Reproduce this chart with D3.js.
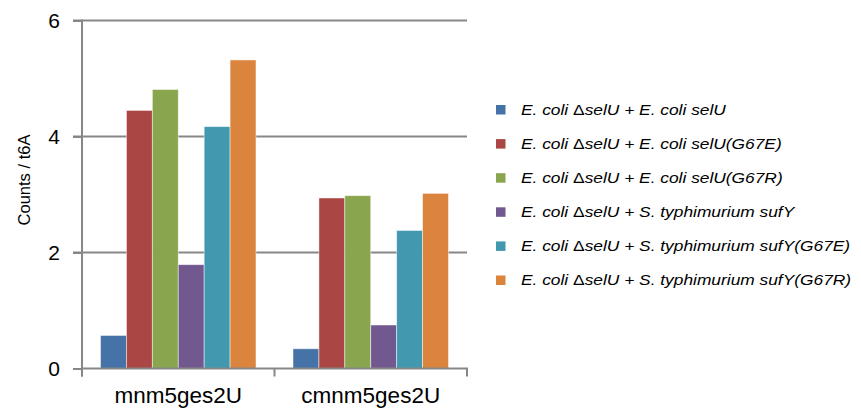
<!DOCTYPE html>
<html>
<head>
<meta charset="utf-8">
<script src="https://cdn.jsdelivr.net/npm/d3@7/dist/d3.min.js"></script>
<style>
  body { margin: 0; background: #fff; }
  svg { display: block; font-family: "Liberation Sans", Arial, sans-serif; }
</style>
</head>
<body>
<svg id="chart" width="861" height="409"></svg>
<script>
// Modified nucleosides measured on the x axis
const categories = ["mnm5ges2U", "cmnm5ges2U"];

// Strain / construct series shown in the legend
const seriesNames = [
  "E. coli ΔselU + E. coli selU",
  "E. coli ΔselU + E. coli selU(G67E)",
  "E. coli ΔselU + E. coli selU(G67R)",
  "E. coli ΔselU + S. typhimurium sufY",
  "E. coli ΔselU + S. typhimurium sufY(G67E)",
  "E. coli ΔselU + S. typhimurium sufY(G67R)"
];

// Counts / t6A for each series, one value per category
const selU      = [0.57, 0.34];
const selUG67E  = [4.45, 2.94];
const selUG67R  = [4.81, 2.98];
const sufY      = [1.79, 0.75];
const sufYG67E  = [4.17, 2.38];
const sufYG67R  = [5.32, 3.02];

const yTicks = [0, 2, 4, 6];
const colors = ["#4572A7", "#AA4643", "#89A54E", "#71588F", "#4198AF", "#DB843D"];

const seriesValues = [selU, selUG67E, selUG67R, sufY, sufYG67E, sufYG67R];

const svg = d3.select("#chart");
const plot = { left: 82, right: 467, top: 20.5, bottom: 368.5 };

const x0 = d3.scaleBand().domain(categories).range([plot.left, plot.right]).paddingInner(0).paddingOuter(0);
const x1 = d3.scaleBand().domain(d3.range(seriesNames.length))
  .range([0, x0.bandwidth()]).paddingInner(0).paddingOuter(0.714);
const y = d3.scaleLinear().domain([0, 6]).range([plot.bottom, plot.top]);

const axisColor = "#878787";

// Horizontal gridlines with short outward ticks
const grid = svg.append("g");
yTicks.filter(t => t > 0).forEach(t => {
  grid.append("line")
    .attr("x1", plot.left - 9).attr("x2", plot.right)
    .attr("y1", y(t)).attr("y2", y(t))
    .attr("stroke", axisColor).attr("stroke-width", 2);
});

// Bars
const groups = svg.append("g").selectAll("g")
  .data(categories)
  .join("g")
  .attr("transform", d => `translate(${x0(d)},0)`);

groups.selectAll("rect")
  .data((c, ci) => seriesValues.map((vals, si) => ({ si, v: vals[ci] })))
  .join("rect")
  .attr("x", d => x1(d.si))
  .attr("width", x1.bandwidth())
  .attr("y", d => y(d.v))
  .attr("height", d => y(0) - y(d.v))
  .attr("fill", d => colors[d.si])
  .attr("stroke", "#ffffff")
  .attr("stroke-opacity", 0.6)
  .attr("stroke-width", 0.8);

// Y axis
const yAxis = d3.axisLeft(y).tickValues(yTicks).tickSize(9).tickPadding(13).tickFormat(d3.format("d"));
const yg = svg.append("g").attr("transform", `translate(${plot.left},0)`).call(yAxis);
yg.select(".domain").attr("stroke", axisColor).attr("stroke-width", 2)
  .attr("d", `M0,${plot.top - 1}V${plot.bottom + 8}`);
yg.selectAll(".tick line").attr("stroke", axisColor).attr("stroke-width", 2);
yg.selectAll(".tick text").attr("fill", "#000").style("font-size", "21px")
  .style("font-family", "'Liberation Sans', Arial, sans-serif");

// X axis: boundary ticks between categories
const xAxisG = svg.append("g");
xAxisG.append("line")
  .attr("x1", plot.left).attr("x2", plot.right + 1)
  .attr("y1", plot.bottom).attr("y2", plot.bottom)
  .attr("stroke", axisColor).attr("stroke-width", 2);
const boundaries = categories.map(c => x0(c)).concat([x0(categories[categories.length - 1]) + x0.bandwidth()]);
xAxisG.selectAll("line.tk")
  .data(boundaries)
  .join("line")
  .attr("class", "tk")
  .attr("x1", d => d).attr("x2", d => d)
  .attr("y1", plot.bottom).attr("y2", plot.bottom + 8)
  .attr("stroke", axisColor).attr("stroke-width", 2);
xAxisG.selectAll("text")
  .data(categories)
  .join("text")
  .attr("x", d => x0(d) + x0.bandwidth() / 2)
  .attr("y", 403)
  .attr("text-anchor", "middle")
  .style("font-size", "22.5px")
  .text(d => d);

// Y axis title
svg.append("text")
  .attr("transform", "translate(30,180) rotate(-90)")
  .attr("text-anchor", "middle")
  .style("font-size", "16.5px")
  .text("Counts / t6A");

// Legend: italic names, with the deletion symbol set upright
const legend = svg.append("g").attr("transform", "translate(496,109.5)");
const rows = legend.selectAll("g")
  .data(seriesNames)
  .join("g")
  .attr("transform", (d, i) => `translate(0,${i * 34.1})`);
rows.append("rect")
  .attr("x", 0).attr("y", -4.5)
  .attr("width", 9.5).attr("height", 9.5)
  .attr("fill", (d, i) => colors[i]);
const labels = rows.append("text")
  .attr("transform", "translate(25,0) scale(1.12,1)")
  .attr("dy", "0.35em")
  .style("font-size", "15.5px")
  .style("font-style", "italic");
labels.each(function (d) {
  const parts = d.split("Δ");
  const t = d3.select(this);
  parts.forEach((p, i) => {
    if (i > 0) t.append("tspan").style("font-style", "normal").text("Δ");
    t.append("tspan").text(p);
  });
});
</script>
</body>
</html>
